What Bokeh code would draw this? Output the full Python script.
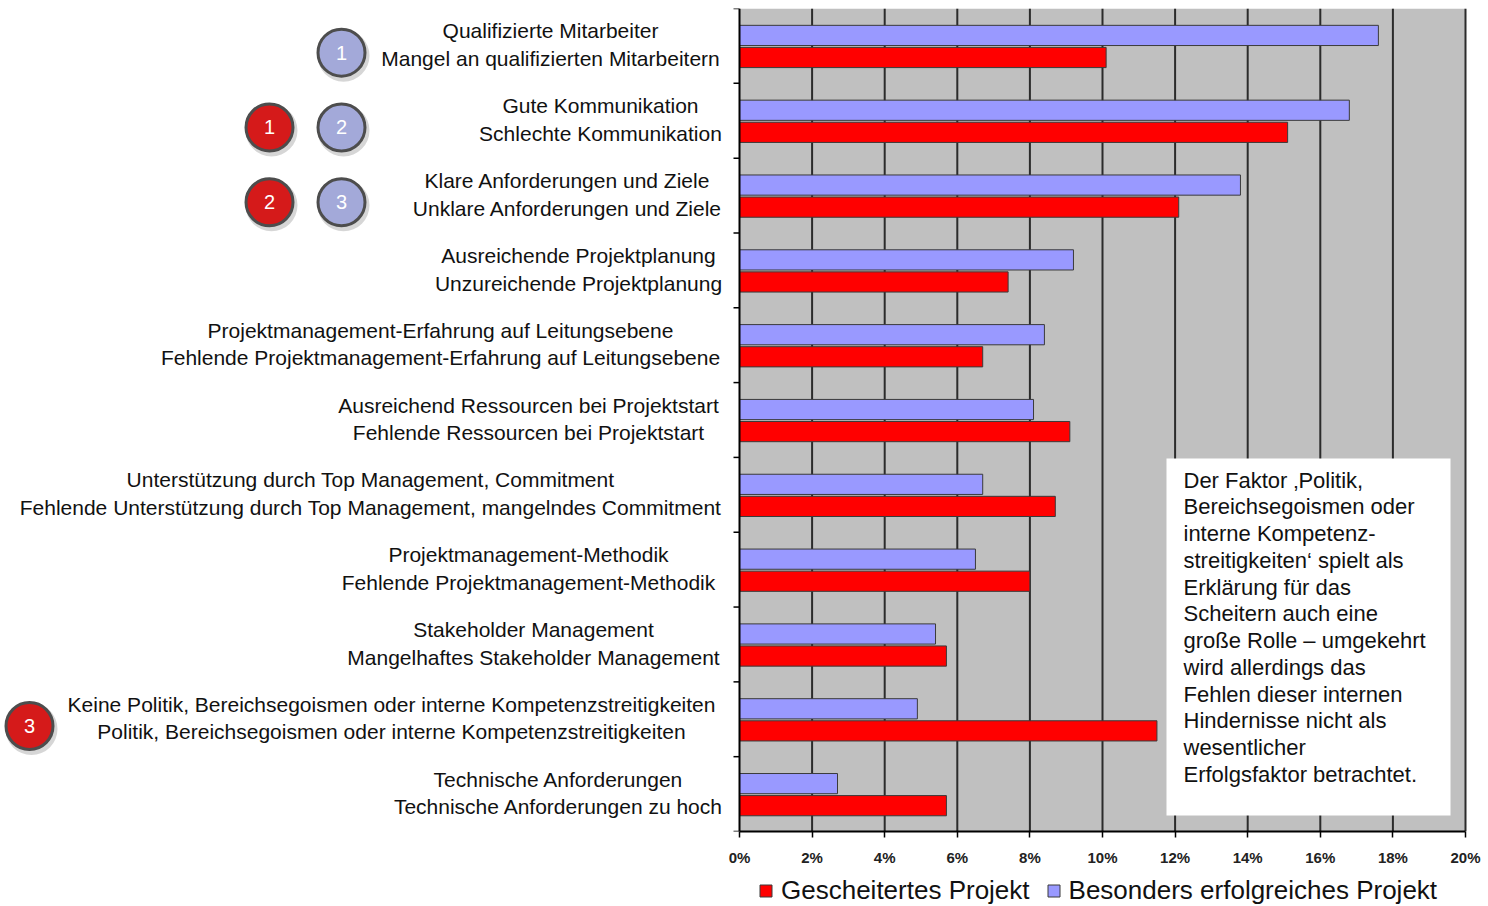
from bokeh.plotting import figure
from bokeh.layouts import column
from bokeh.models import Range1d, FixedTicker, PrintfTickFormatter, Legend, LegendItem
from bokeh.embed import file_html
from bokeh.resources import INLINE
from bokeh.core.properties import value

# ---------------- data ----------------
success_labels = [
    "Qualifizierte Mitarbeiter",
    "Gute Kommunikation",
    "Klare Anforderungen und Ziele",
    "Ausreichende Projektplanung",
    "Projektmanagement-Erfahrung auf Leitungsebene",
    "Ausreichend Ressourcen bei Projektstart",
    "Unterstützung durch Top Management, Commitment",
    "Projektmanagement-Methodik",
    "Stakeholder Management",
    "Keine Politik, Bereichsegoismen oder interne Kompetenzstreitigkeiten",
    "Technische Anforderungen",
]
failure_labels = [
    "Mangel an qualifizierten Mitarbeitern",
    "Schlechte Kommunikation",
    "Unklare Anforderungen und Ziele",
    "Unzureichende Projektplanung",
    "Fehlende Projektmanagement-Erfahrung auf Leitungsebene",
    "Fehlende Ressourcen bei Projektstart",
    "Fehlende Unterstützung durch Top Management, mangelndes Commitment",
    "Fehlende Projektmanagement-Methodik",
    "Mangelhaftes Stakeholder Management",
    "Politik, Bereichsegoismen oder interne Kompetenzstreitigkeiten",
    "Technische Anforderungen zu hoch",
]
success = [17.6, 16.8, 13.8, 9.2, 8.4, 8.1, 6.7, 6.5, 5.4, 4.9, 2.7]
failure = [10.1, 15.1, 12.1, 7.4, 6.7, 9.1, 8.7, 8.0, 5.7, 11.5, 5.7]
ticks = [0, 2, 4, 6, 8, 10, 12, 14, 16, 18, 20]
series_names = ["Gescheitertes Projekt", "Besonders erfolgreiches Projekt"]

# rank badges: category index, number, kind
badge_cat = [0, 1, 2, 1, 2, 9]
badge_num = ["1", "2", "3", "1", "2", "3"]
badge_kind = ["success", "success", "success", "failure", "failure", "failure"]

note_lines = [
    "Der Faktor \u201aPolitik,",
    "Bereichsegoismen oder",
    "interne Kompetenz-",
    "streitigkeiten\u2018 spielt als",
    "Erklärung für das",
    "Scheitern auch eine",
    "große Rolle \u2013 umgekehrt",
    "wird allerdings das",
    "Fehlen dieser internen",
    "Hindernisse nicht als",
    "wesentlicher",
    "Erfolgsfaktor betrachtet.",
]

# ---------------- layout ----------------
W = 1488
H1, H2 = 870, 36
TOP = 8
BOTTOM = 831
X0 = 739.0          # canvas x of 0 %
PX = 36.3           # pixels per percent
n = len(success)
CAT = (BOTTOM - TOP) / n
x_start = -X0 / PX
x_end = (W - X0) / PX

FONT = value("Liberation Sans")
BLUE = "#9999ff"
RED = "#ff0000"
OUTLINE = "#3a3a3a"

p = figure(width=W, height=H1, output_backend="svg", toolbar_location=None,
           x_range=Range1d(x_start, x_end), y_range=Range1d(n, 0),
           y_axis_location=None,
           min_border_left=0, min_border_right=0, min_border_top=TOP,
           min_border_bottom=H1 - BOTTOM)
p.outline_line_color = None
p.xgrid.visible = False
p.ygrid.visible = False
p.background_fill_color = "white"
p.border_fill_color = "white"

def px_x(page_x):
    return (page_x - X0) / PX

def px_y(page_y):
    return (page_y - TOP) / CAT

# grey plot area
p.quad(left=[ticks[0]], right=[ticks[-1]], top=[0], bottom=[n],
       fill_color="#c0c0c0", line_color=None)
# vertical grid lines
p.segment(x0=ticks[1:], x1=ticks[1:], y0=[0] * (len(ticks) - 1), y1=[n] * (len(ticks) - 1),
          line_color="#2b2b2b", line_width=2)

idx = list(range(n))
bh = 0.27
blue = p.hbar(y=[i + 0.36 for i in idx], left=0, right=success, height=bh,
              fill_color=BLUE, line_color=OUTLINE, line_width=1)
red = p.hbar(y=[i + 0.655 for i in idx], left=0, right=failure, height=bh,
             fill_color=RED, line_color=OUTLINE, line_width=1)

# left axis line and category ticks
p.segment(x0=[0], x1=[0], y0=[0], y1=[n], line_color="black", line_width=2)
p.segment(x0=[-6 / PX] * (n + 1), x1=[0] * (n + 1), y0=list(range(n + 1)), y1=list(range(n + 1)),
          line_color="black", line_width=1.5)

# category labels (two lines, centred block)
label_cx_page = [550, 600, 567, 578, 440, 528, 370, 528, 533, 391, 558]
label_cx = [px_x(v) for v in label_cx_page]
p.text(x=label_cx, y=[i + 0.30 for i in idx], text=success_labels,
       text_align="center", text_baseline="middle", text_font=FONT,
       text_font_size="21px", text_color="#111111")
p.text(x=label_cx, y=[i + 0.67 for i in idx], text=failure_labels,
       text_align="center", text_baseline="middle", text_font=FONT,
       text_font_size="21px", text_color="#111111")

# rank badges
bx = []
for c, k in zip(badge_cat, badge_kind):
    if k == "failure" and c == 9:
        bx.append(px_x(29))
    elif k == "failure":
        bx.append(px_x(269))
    else:
        bx.append(px_x(341))
by = [c + 0.59 for c in badge_cat]
bfill = ["#a3a9d9" if k == "success" else "#d51a1a" for k in badge_kind]
p.scatter(x=[v + 2 / PX for v in bx], y=[v + 3 / CAT for v in by], size=52,
          fill_color="#000000", fill_alpha=0.16, line_color=None)
p.scatter(x=bx, y=by, size=47, fill_color=bfill, line_color="#4d4d4d", line_width=3)
p.text(x=bx, y=by, text=badge_num, text_align="center", text_baseline="middle",
       text_font=FONT, text_font_size="20px", text_color="white")

# note box
p.quad(left=[px_x(1166)], right=[px_x(1450)], top=[px_y(458)], bottom=[px_y(815)],
       fill_color="white", line_color=None)
p.text(x=[px_x(1183)], y=[px_y(467)], text=["\n".join(note_lines)],
       text_align="left", text_baseline="top", text_line_height=1.07,
       text_font=FONT, text_font_size="22px", text_color="#111111")

# x axis
ax = p.xaxis[0]
ax.ticker = FixedTicker(ticks=ticks)
ax.formatter = PrintfTickFormatter(format="%d%%")
ax.bounds = (ticks[0], ticks[-1])
ax.axis_line_color = "black"
ax.axis_line_width = 2
ax.major_tick_line_color = "black"
ax.major_tick_line_width = 1.5
ax.major_tick_out = 6
ax.major_tick_in = 0
ax.minor_tick_line_color = None
ax.major_label_standoff = 11
ax.major_label_text_font = "Liberation Sans"
ax.major_label_text_font_size = "15px"
ax.major_label_text_font_style = "bold"
ax.major_label_text_color = "#222222"

# ---------------- legend strip ----------------
q = figure(width=W, height=H2, output_backend="svg", toolbar_location=None,
           x_range=Range1d(0, 1), y_range=Range1d(0, 1),
           x_axis_location=None, y_axis_location=None,
           min_border_left=0, min_border_right=0, min_border_top=0, min_border_bottom=0)
q.outline_line_color = None
q.xgrid.visible = False
q.ygrid.visible = False
q.background_fill_color = "white"
q.border_fill_color = "white"
# legend proxies: zero-size boxes far outside the visible range of this strip
lr = q.hbar(y=[-50], left=[-50], right=[-50], height=0.0, fill_color=RED, line_color=OUTLINE, line_width=1)
lb = q.hbar(y=[-50], left=[-50], right=[-50], height=0.0, fill_color=BLUE, line_color=OUTLINE, line_width=1)
legend = Legend(items=[LegendItem(label=series_names[0], renderers=[lr]),
                       LegendItem(label=series_names[1], renderers=[lb])],
                orientation="horizontal", location=(758, 0),
                padding=0, margin=0, spacing=16, glyph_width=15, glyph_height=15,
                label_standoff=8, label_height=26, label_text_font="Liberation Sans",
                label_text_font_size="26px", label_text_color="#111111",
                border_line_color=None, background_fill_alpha=0)
q.add_layout(legend)

open("out.html", "w").write(file_html(column(p, q, spacing=0), INLINE))
